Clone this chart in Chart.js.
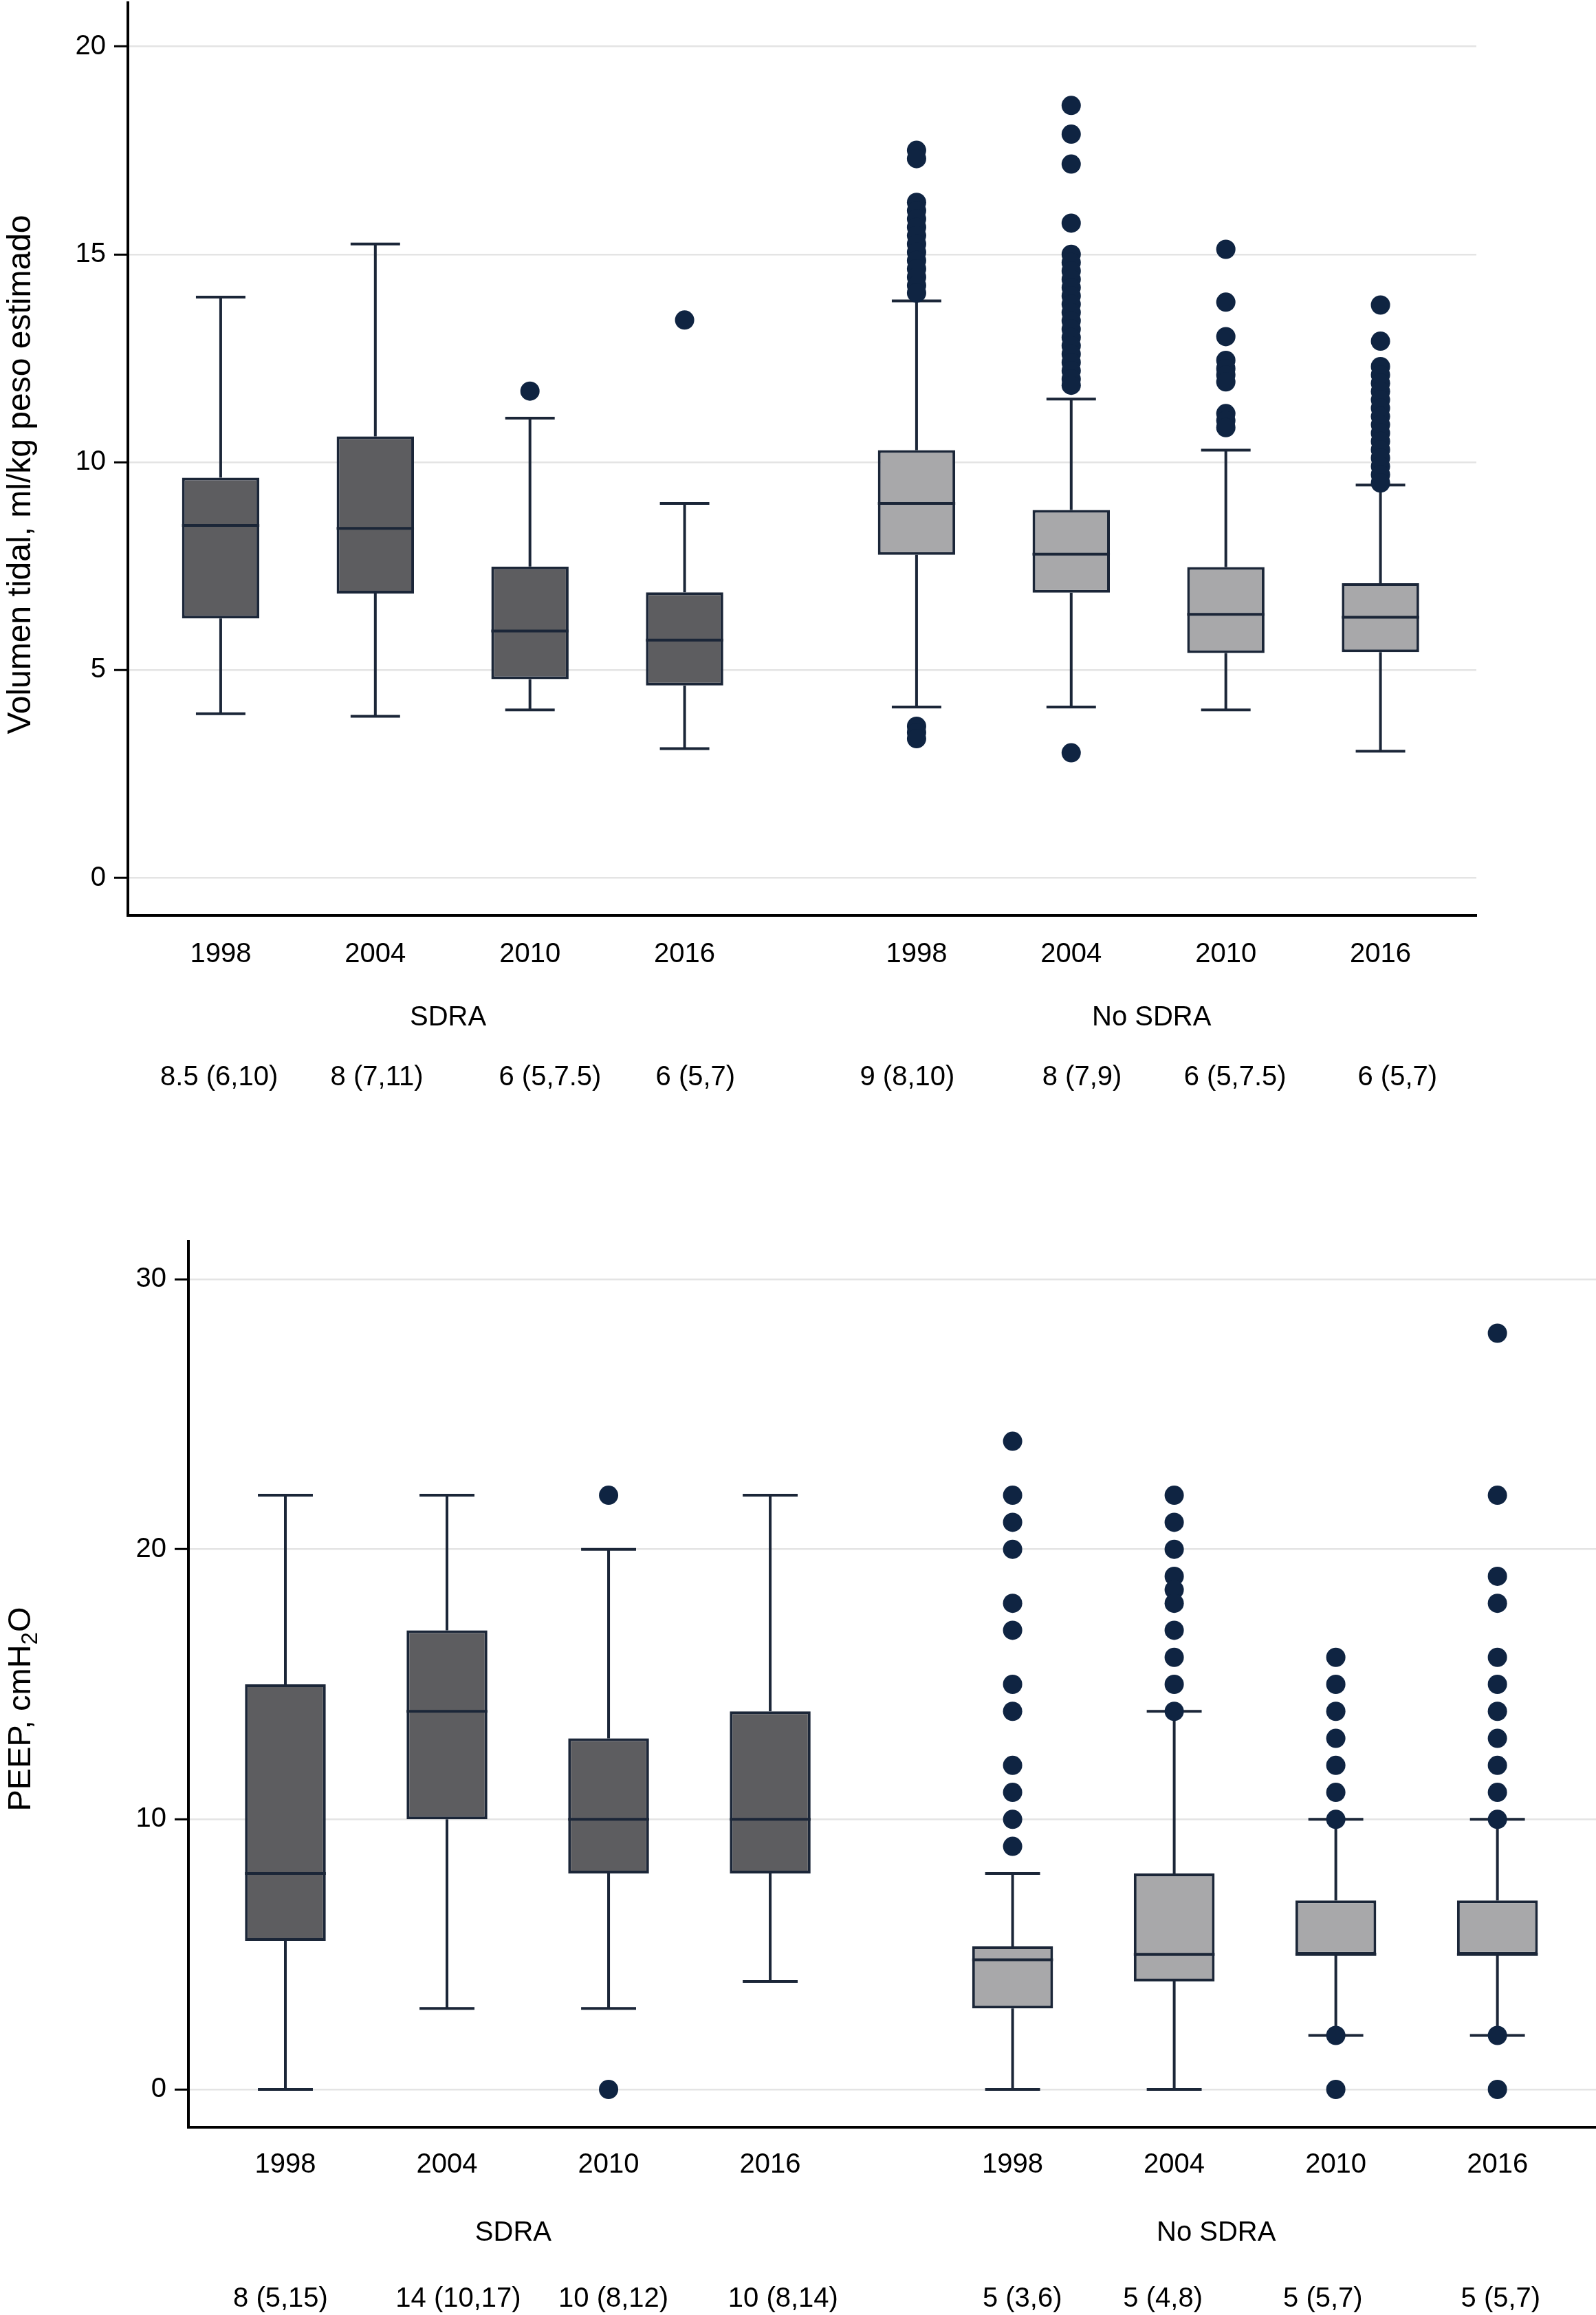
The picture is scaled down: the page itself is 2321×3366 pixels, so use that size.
<!DOCTYPE html>
<html lang="es">
<head>
<meta charset="utf-8">
<title>Volumen tidal y PEEP</title>
<script src="https://cdn.jsdelivr.net/npm/chart.js@4.4.1/dist/chart.umd.min.js"></script>
<style>
  html, body { margin: 0; padding: 0; background: #fff; }
  body { width: 2321px; height: 3366px; position: relative; overflow: hidden; }
  canvas { position: absolute; left: 0; }
  #graficoVT { top: 0; }
  #graficoPEEP { top: 1700px; }
</style>
</head>
<body>
<canvas id="graficoVT" width="2321" height="1640"></canvas>
<canvas id="graficoPEEP" width="2321" height="1666"></canvas>
<script>
const anios = ["1998", "2004", "2010", "2016", "1998", "2004", "2010", "2016"];
const grupos = ["SDRA", "No SDRA"];

// Volumen tidal (ml/kg peso estimado)
const vtTicks = [0, 5, 10, 15, 20];
const vtBigoteInf = [3.95, 3.89, 4.04, 3.11, 4.11, 4.11, 4.04, 3.05];
const vtQ1 = [6.24, 6.84, 4.78, 4.63, 7.77, 6.86, 5.41, 5.43];
const vtMediana = [8.48, 8.41, 5.94, 5.72, 9.01, 7.79, 6.34, 6.27];
const vtQ3 = [9.63, 10.62, 7.49, 6.87, 10.29, 8.85, 7.48, 7.09];
const vtBigoteSup = [13.97, 15.25, 11.06, 9.01, 13.88, 11.52, 10.29, 9.45];
const vtAtipicos = [
  [],
  [],
  [11.71],
  [13.42],
  [17.5, 17.3, 16.25, 16.05, 15.85, 15.65, 15.45, 15.25, 15.05, 14.85, 14.65, 14.45, 14.25, 14.07, 3.65, 3.5, 3.35],
  [18.58, 17.89, 17.17, 15.75, 15.0, 14.8, 14.6, 14.4, 14.2, 14.0, 13.8, 13.6, 13.4, 13.2, 13.0, 12.8, 12.6, 12.4, 12.2, 12.0, 11.85, 3.01],
  [15.12, 13.85, 13.02, 12.45, 12.25, 12.1, 11.93, 11.17, 11.0, 10.83],
  [13.78, 12.91, 12.3, 12.1, 11.9, 11.7, 11.5, 11.3, 11.1, 10.9, 10.7, 10.5, 10.3, 10.1, 9.9, 9.7, 9.5]
];
const vtResumen = ["8.5 (6,10)", "8 (7,11)", "6 (5,7.5)", "6 (5,7)", "9 (8,10)", "8 (7,9)", "6 (5,7.5)", "6 (5,7)"];

// PEEP (cmH2O)
const peepTicks = [0, 10, 20, 30];
const peepBigoteInf = [0, 3, 3, 4, 0, 0, 2, 2];
const peepQ1 = [5.5, 10, 8, 8, 3, 4, 5, 5];
const peepMediana = [8, 14, 10, 10, 4.8, 5, 5, 5];
const peepQ3 = [15, 17, 13, 14, 5.3, 8, 7, 7];
const peepBigoteSup = [22, 22, 20, 22, 8, 14, 10, 10];
const peepAtipicos = [
  [],
  [],
  [22, 0],
  [],
  [24, 22, 21, 20, 18, 17, 15, 14, 12, 11, 10, 9],
  [22, 21, 20, 19, 18.5, 18, 17, 16, 15, 14],
  [16, 15, 14, 13, 12, 11, 10, 2, 0],
  [28, 22, 19, 18, 16, 15, 14, 13, 12, 11, 10, 2, 0]
];
const peepResumen = ["8 (5,15)", "14 (10,17)", "10 (8,12)", "10 (8,14)", "5 (3,6)", "5 (4,8)", "5 (5,7)", "5 (5,7)"];

const FUENTE = '"Liberation Sans", Arial, Helvetica, sans-serif';
const COLOR_BORDE = "#1b2638";
const COLOR_PUNTO = "#0f2442";
const COLOR_SDRA = "#5d5d60";
const COLOR_NOSDRA = "#a8a8aa";

Chart.defaults.font.family = FUENTE;
Chart.defaults.color = "#000";

// Titulo vertical, con partes opcionalmente en subindice
function dibujarTituloY(ctx, partes, baseX, centroY, tam) {
  ctx.save();
  ctx.fillStyle = "#000";
  ctx.textBaseline = "alphabetic";
  ctx.textAlign = "left";
  let total = 0;
  partes.forEach((p) => {
    ctx.font = `${p.sub ? Math.round(tam * 0.7) : tam}px ${FUENTE}`;
    p.ancho = ctx.measureText(p.t).width;
    total += p.ancho;
  });
  ctx.translate(baseX, centroY);
  ctx.rotate(-Math.PI / 2);
  let x = -total / 2;
  partes.forEach((p) => {
    ctx.font = `${p.sub ? Math.round(tam * 0.7) : tam}px ${FUENTE}`;
    ctx.fillText(p.t, x, p.sub ? tam * 0.22 : 0);
    x += p.ancho;
  });
  ctx.restore();
}

function construirGrafico(canvasId, d) {
  const cajas = d.posX.map((x, i) => ({ x, y: [d.q1[i], d.q3[i]] }));
  const puntos = [];
  d.atipicos.forEach((lista, i) => {
    lista.forEach((v) => puntos.push({ x: d.posX[i], y: v }));
  });

  const pluginCajas = {
    id: "cajas",
    beforeDatasetsDraw(chart) {
      const { ctx, scales: { x, y } } = chart;
      ctx.save();
      ctx.strokeStyle = COLOR_BORDE;
      ctx.lineWidth = 4;
      d.posX.forEach((px, i) => {
        const cx = x.getPixelForValue(px);
        const semi = x.getPixelForValue(px + d.anchoBigote / 2) - cx;
        [[d.q3[i], d.sup[i]], [d.q1[i], d.inf[i]]].forEach(([desde, hasta]) => {
          const yh = y.getPixelForValue(hasta);
          ctx.beginPath();
          ctx.moveTo(cx, y.getPixelForValue(desde));
          ctx.lineTo(cx, yh);
          ctx.moveTo(cx - semi, yh);
          ctx.lineTo(cx + semi, yh);
          ctx.stroke();
        });
      });
      ctx.restore();
    },
    afterDatasetsDraw(chart) {
      const { ctx, scales: { x, y } } = chart;
      ctx.save();
      ctx.strokeStyle = COLOR_BORDE;
      ctx.lineWidth = 4;
      d.posX.forEach((px, i) => {
        const semi = x.getPixelForValue(px + d.anchoCaja / 2) - x.getPixelForValue(px);
        const cx = x.getPixelForValue(px);
        const ym = y.getPixelForValue(d.mediana[i]);
        ctx.beginPath();
        ctx.moveTo(cx - semi, ym);
        ctx.lineTo(cx + semi, ym);
        ctx.stroke();
      });
      ctx.restore();
    },
    afterDraw(chart) {
      const { ctx, chartArea, scales: { x } } = chart;
      ctx.save();
      ctx.fillStyle = "#000";
      ctx.font = `40px ${FUENTE}`;
      ctx.textAlign = "center";
      ctx.textBaseline = "middle";
      grupos.forEach((g, i) => {
        ctx.fillText(g, x.getPixelForValue(d.posGrupo[i]), chartArea.bottom + d.dyGrupo);
      });
      d.resumen.forEach((r, i) => {
        ctx.fillText(r, x.getPixelForValue(d.posResumen[i]), chartArea.bottom + d.dyResumen);
      });
      ctx.restore();
      dibujarTituloY(ctx, d.titulo, d.tituloX, d.tituloY, d.tituloTam);
    }
  };

  return new Chart(document.getElementById(canvasId), {
    type: "bar",
    data: {
      datasets: [
        {
          type: "scatter",
          data: puntos,
          pointRadius: 14,
          pointHoverRadius: 14,
          pointBackgroundColor: COLOR_PUNTO,
          pointBorderWidth: 0,
          order: 1
        },
        {
          type: "bar",
          data: cajas,
          backgroundColor: d.posX.map((_, i) => (i < 4 ? COLOR_SDRA : COLOR_NOSDRA)),
          borderColor: COLOR_BORDE,
          borderWidth: 4,
          borderSkipped: false,
          barPercentage: d.anchoCaja,
          categoryPercentage: 1,
          grouped: false,
          order: 2
        }
      ]
    },
    options: {
      responsive: false,
      devicePixelRatio: 1,
      animation: false,
      layout: { autoPadding: false, padding: { top: d.padSup, right: d.padDer, left: 0, bottom: 0 } },
      plugins: { legend: { display: false }, tooltip: { enabled: false } },
      scales: {
        x: {
          type: "linear",
          offset: false,
          min: d.xMin,
          max: d.xMax,
          afterBuildTicks: (s) => { s.ticks = d.posX.map((v) => ({ value: v })); },
          afterFit: (s) => { s.height = d.altoEjeX; s.paddingLeft = 0; s.paddingRight = 0; },
          grid: { display: false, drawTicks: false },
          border: { display: true, color: "#000", width: 4 },
          ticks: {
            padding: d.padAnios,
            font: { size: 40 },
            maxRotation: 0,
            autoSkip: false,
            callback: (v, i) => anios[i]
          }
        },
        y: {
          type: "linear",
          min: d.yMin,
          max: d.yMax,
          afterBuildTicks: (s) => { s.ticks = d.ticks.map((v) => ({ value: v })); },
          afterFit: (s) => { s.width = d.anchoEjeY; s.paddingTop = 0; s.paddingBottom = 0; },
          grid: { color: "#e4e4e4", lineWidth: 2.5, drawTicks: true, tickLength: 20, tickColor: "#000", tickWidth: 3 },
          border: { display: true, color: "#000", width: 4 },
          ticks: { padding: 12, font: { size: 40 }, callback: (v) => String(v) }
        }
      }
    },
    plugins: [pluginCajas]
  });
}

construirGrafico("graficoVT", {
  inf: vtBigoteInf, q1: vtQ1, mediana: vtMediana, q3: vtQ3, sup: vtBigoteSup,
  atipicos: vtAtipicos, resumen: vtResumen, ticks: vtTicks,
  titulo: [{ t: "Volumen tidal, ml/kg peso estimado" }],
  posX: [1, 2, 3, 4, 5.5, 6.5, 7.5, 8.5],
  posGrupo: [2.47, 7.02],
  posResumen: [0.99, 2.01, 3.13, 4.07, 5.44, 6.57, 7.56, 8.61],
  xMin: 0.4, xMax: 9.12, yMin: -0.9, yMax: 21.05,
  anchoCaja: 0.5, anchoBigote: 0.32,
  anchoEjeY: 186, altoEjeX: 309, padSup: 4, padDer: 174, padAnios: 33,
  dyGrupo: 149, dyResumen: 236,
  tituloX: 44, tituloY: 690, tituloTam: 48
});

construirGrafico("graficoPEEP", {
  inf: peepBigoteInf, q1: peepQ1, mediana: peepMediana, q3: peepQ3, sup: peepBigoteSup,
  atipicos: peepAtipicos, resumen: peepResumen, ticks: peepTicks,
  titulo: [{ t: "PEEP, cmH" }, { t: "2", sub: true }, { t: "O" }],
  posX: [1, 2, 3, 4, 5.5, 6.5, 7.5, 8.5],
  posGrupo: [2.41, 6.76],
  posResumen: [0.97, 2.07, 3.03, 4.08, 5.56, 6.43, 7.42, 8.52],
  xMin: 0.4, xMax: 9.11, yMin: -1.4, yMax: 31.4,
  anchoCaja: 0.5, anchoBigote: 0.34,
  anchoEjeY: 274, altoEjeX: 273, padSup: 105, padDer: 0, padAnios: 31,
  dyGrupo: 154, dyResumen: 250,
  tituloX: 44, tituloY: 785, tituloTam: 47
});
</script>
</body>
</html>
